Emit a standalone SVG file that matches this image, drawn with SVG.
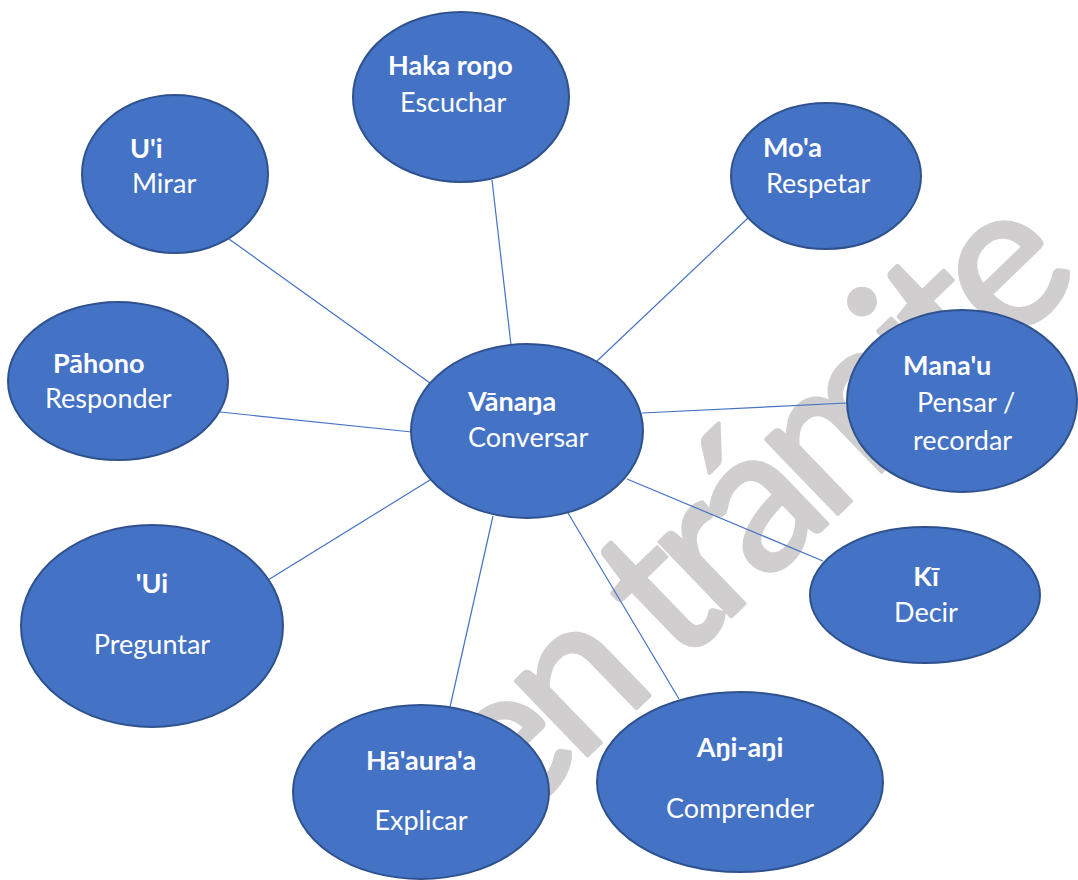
<svg xmlns="http://www.w3.org/2000/svg" width="1078" height="880" viewBox="0 0 1078 880">
  <style>
    .node { fill: #4472C4; stroke: #2F528F; stroke-width: 2; }
    .link { stroke: #4472C4; stroke-width: 1.2; fill: none; }
    .t { font-family: Lato, "Open Sans", "Noto Sans", sans-serif; font-size: 27px; fill: #ffffff; }
    .b { font-weight: bold; }
    .m { text-anchor: middle; }
    .wm { font-family: Lato, "Open Sans", "Noto Sans", sans-serif; font-size: 204px; fill: #d0cece; stroke: #d0cece; stroke-width: 4; stroke-linejoin: round; text-anchor: middle; }
  </style>
  <rect x="0" y="0" width="1078" height="880" fill="#ffffff"/>

  <!-- watermark -->
  <g id="watermark">
    <text class="wm" transform="translate(797,553) rotate(-44)" textLength="800" lengthAdjust="spacing">en trámite</text>
  </g>

  <!-- connectors from the central node -->
  <g id="connectors">
    <line class="link" x1="511" y1="345" x2="492" y2="180"/>
    <line class="link" x1="597" y1="361" x2="748" y2="218"/>
    <line class="link" x1="430" y1="383" x2="229" y2="239"/>
    <line class="link" x1="412" y1="432" x2="220" y2="412"/>
    <line class="link" x1="642" y1="413" x2="847" y2="403"/>
    <line class="link" x1="430" y1="480" x2="268" y2="580"/>
    <line class="link" x1="627" y1="479" x2="823" y2="561"/>
    <line class="link" x1="493" y1="516" x2="450" y2="707"/>
    <line class="link" x1="568" y1="513" x2="679" y2="699"/>
  </g>

  <g id="node-haka-rono">
    <ellipse class="node" cx="461" cy="97" rx="108" ry="85"/>
    <text class="t b" x="388" y="75">Haka roŋo</text>
    <text class="t" x="400" y="112">Escuchar</text>
  </g>

  <g id="node-moa">
    <ellipse class="node" cx="826" cy="176" rx="95" ry="73"/>
    <text class="t b" x="763" y="157">Mo'a</text>
    <text class="t" x="766" y="193">Respetar</text>
  </g>

  <g id="node-ui-mirar">
    <ellipse class="node" cx="175" cy="174" rx="93" ry="79"/>
    <text class="t b" x="130" y="158">U'i</text>
    <text class="t" x="132" y="193">Mirar</text>
  </g>

  <g id="node-pahono">
    <ellipse class="node" cx="118" cy="381" rx="110" ry="79"/>
    <text class="t b" x="53" y="373">Pāhono</text>
    <text class="t" x="45" y="408">Responder</text>
  </g>

  <g id="node-vanana">
    <ellipse class="node" cx="527" cy="431" rx="116" ry="87"/>
    <text class="t b" x="468" y="411">Vānaŋa</text>
    <text class="t" x="468" y="447">Conversar</text>
  </g>

  <g id="node-manau">
    <ellipse class="node" cx="962" cy="401" rx="115" ry="91"/>
    <text class="t b" x="903" y="375">Mana'u</text>
    <text class="t" x="917" y="412">Pensar /</text>
    <text class="t" x="913" y="450">recordar</text>
  </g>

  <g id="node-ui-preguntar">
    <ellipse class="node" cx="152" cy="626" rx="131" ry="101"/>
    <text class="t b m" x="152" y="593">'Ui</text>
    <text class="t m" x="152" y="654">Preguntar</text>
  </g>

  <g id="node-ki">
    <ellipse class="node" cx="925" cy="595" rx="115" ry="68"/>
    <text class="t b m" x="926" y="586">Kī</text>
    <text class="t m" x="926" y="622">Decir</text>
  </g>

  <g id="node-haauraa">
    <ellipse class="node" cx="421" cy="792" rx="128" ry="87"/>
    <text class="t b m" x="421" y="770">Hā'aura'a</text>
    <text class="t m" x="421" y="830">Explicar</text>
  </g>

  <g id="node-ani-ani">
    <ellipse class="node" cx="740" cy="782" rx="143" ry="90"/>
    <text class="t b m" x="740" y="757">Aŋi-aŋi</text>
    <text class="t m" x="740" y="818">Comprender</text>
  </g>
</svg>
